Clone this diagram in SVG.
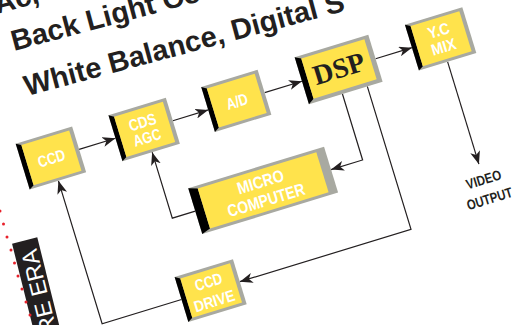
<svg xmlns="http://www.w3.org/2000/svg" width="521" height="325" viewBox="0 0 521 325">
<style>
.fr{fill:#A8A9A1}
.bk{fill:#000}
.yl{fill:#FFE34C}
.lb{font-family:'Liberation Sans Narrow','Liberation Sans',Arial,sans-serif;font-weight:bold;font-size:16px;fill:#fff;text-anchor:middle}
.dsp{font-family:'Liberation Serif','Times New Roman',serif;font-weight:bold;font-size:28px;fill:#231F20;text-anchor:middle}
.vo{font-family:'Liberation Sans Narrow','Liberation Sans',Arial,sans-serif;font-weight:bold;font-size:14px;fill:#231F20;text-anchor:middle}
.hd{font-family:'Liberation Sans',Arial,sans-serif;font-weight:bold;font-size:29px;fill:#231F20}
.ln{fill:none;stroke:#231F20;stroke-width:1.2}
.dot{fill:#E8212B}
</style>
<defs>
<marker id="ah" viewBox="0 0 13 10" refX="13" refY="5" markerWidth="13" markerHeight="10" markerUnits="userSpaceOnUse" orient="auto">
<path d="M0,0 L13,5 L0,10 L3.5,5 z" fill="#231F20"/>
</marker>
</defs>
<rect width="521" height="325" fill="#fff"/>

<g id="heading">
<text class="hd" transform="translate(-3,14) rotate(-15)">Ac,</text>
<text class="hd" transform="translate(14,51) rotate(-15)">Back Light Co</text>
<text class="hd" transform="translate(27,96) rotate(-15)">White Balance, Digital S</text>
</g>

<g id="side-banner">
<g transform="rotate(-14 37 290)">
<rect x="24" y="239" width="26" height="130" fill="#231F20"/>
<text transform="translate(46.5,249) rotate(-90)" style="font-family:'Liberation Sans',Arial,sans-serif;font-size:23px;fill:#fff;text-anchor:end">RE ERA</text>
</g>
<circle class="dot" cx="0" cy="211" r="1.5"/>
<circle class="dot" cx="3.5" cy="224" r="1.5"/>
<circle class="dot" cx="7" cy="237" r="1.5"/>
<circle class="dot" cx="11" cy="250" r="1.5"/>
<circle class="dot" cx="14.5" cy="263" r="1.5"/>
<circle class="dot" cx="18" cy="276" r="1.5"/>
<circle class="dot" cx="22" cy="289" r="1.5"/>
<circle class="dot" cx="26" cy="302" r="1.5"/>
<circle class="dot" cx="30" cy="315" r="1.5"/>
</g>

<g transform="rotate(-17)">
<g id="connectors">
<path class="ln" d="M32,166 H70" marker-end="url(#ah)"/>
<path class="ln" d="M130,166 H167" marker-end="url(#ah)"/>
<path class="ln" d="M226,166 H265" marker-end="url(#ah)"/>
<path class="ln" d="M342,166 H380" marker-end="url(#ah)"/>
<path class="ln" d="M410,190 V297" marker-end="url(#ah)"/>
<path class="ln" d="M300,190 V259 H267" marker-end="url(#ah)"/>
<path class="ln" d="M326,190 V339.5 H147" marker-end="url(#ah)"/>
<path class="ln" d="M86,339.5 H3 V190" marker-end="url(#ah)"/>
<path class="ln" d="M125,259 H101 V190" marker-end="url(#ah)"/>
</g>

<g id="ccd">
<rect class="fr" x="-27" y="142" width="59" height="48"/>
<polygon class="bk" points="-27,142 -22,145 -22,187 -27,190"/>
<rect class="yl" x="-22" y="145" width="50" height="42"/>
<text class="lb" x="3" y="172" textLength="28" lengthAdjust="spacingAndGlyphs">CCD</text>
</g>

<g id="cds-agc">
<rect class="fr" x="70" y="142" width="60" height="48"/>
<polygon class="bk" points="70,142 75,145 75,187 70,190"/>
<rect class="yl" x="75" y="145" width="51" height="42"/>
<text class="lb" x="100.5" y="164" textLength="28" lengthAdjust="spacingAndGlyphs">CDS</text>
<text class="lb" x="100.5" y="180" textLength="28" lengthAdjust="spacingAndGlyphs">AGC</text>
</g>

<g id="ad">
<rect class="fr" x="167" y="142" width="59" height="47"/>
<polygon class="bk" points="167,142 172,145 172,186 167,189"/>
<rect class="yl" x="172" y="145" width="50" height="41"/>
<text class="lb" x="197" y="172" textLength="22" lengthAdjust="spacingAndGlyphs">A/D</text>
</g>

<g id="dsp">
<rect class="fr" x="265" y="141" width="77" height="49"/>
<polygon class="bk" points="265,141 271,144 271,186 265,190"/>
<rect class="yl" x="271" y="144" width="66" height="42"/>
<text class="dsp" x="304" y="174">DSP</text>
</g>

<g id="yc-mix">
<rect class="fr" x="380" y="142" width="60" height="48"/>
<polygon class="bk" points="380,142 385,145 385,187 380,190"/>
<rect class="yl" x="385" y="145" width="51" height="42"/>
<text class="lb" x="410.5" y="163" textLength="22" lengthAdjust="spacingAndGlyphs">Y.C</text>
<text class="lb" x="410.5" y="180" textLength="25" lengthAdjust="spacingAndGlyphs">MIX</text>
</g>

<g id="micro-computer">
<rect class="fr" x="125" y="235" width="142" height="48"/>
<polygon class="bk" points="125,235 134,238 134,280 125,283"/>
<rect class="yl" x="134" y="238" width="124" height="42"/>
<text class="lb" x="196" y="256" style="font-size:17px" textLength="48" lengthAdjust="spacingAndGlyphs">MICRO</text>
<text class="lb" x="196" y="275" style="font-size:17px" textLength="80" lengthAdjust="spacingAndGlyphs">COMPUTER</text>
</g>

<g id="ccd-drive">
<rect class="fr" x="86" y="316" width="61" height="47"/>
<polygon class="bk" points="86,316 91,319 91,360 86,363"/>
<rect class="yl" x="91" y="319" width="52" height="41"/>
<text class="lb" x="117" y="336" textLength="28" lengthAdjust="spacingAndGlyphs">CCD</text>
<text class="lb" x="117" y="356" textLength="42" lengthAdjust="spacingAndGlyphs">DRIVE</text>
</g>

<g id="video-output">
<text class="vo" x="410" y="318" textLength="36" lengthAdjust="spacingAndGlyphs">VIDEO</text>
<text class="vo" x="410" y="338" textLength="47" lengthAdjust="spacingAndGlyphs">OUTPUT</text>
</g>
</g>
</svg>
